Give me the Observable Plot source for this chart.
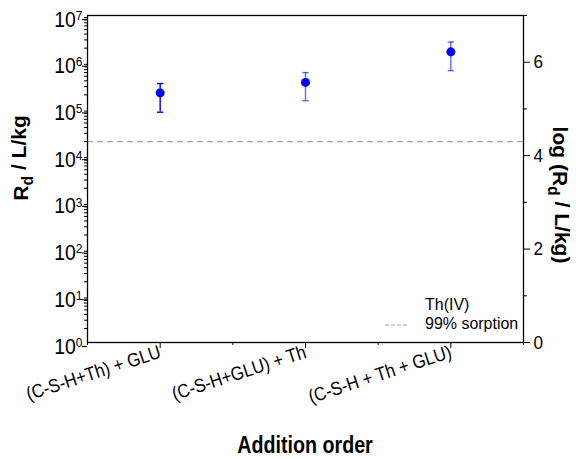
<!DOCTYPE html>
<html><head><meta charset="utf-8">
<script src="https://cdn.jsdelivr.net/npm/d3@7"></script>
<script src="https://cdn.jsdelivr.net/npm/@observablehq/plot@0.6"></script>
<style>body{margin:0;background:#fff;font-family:"Liberation Sans",Arial,sans-serif}</style>
</head><body><div id="chart"></div>
<script>
const categories = ["(C-S-H+Th) + GLU", "(C-S-H+GLU) + Th", "(C-S-H + Th + GLU)"];
const rdValues = [2.2e5, 3.7e5, 1.67e6];
const rdLower = [8.5e4, 1.5e5, 6.6e5];
const rdUpper = [3.5e5, 6.0e5, 2.7e6];
const sorption99 = 2.0e4;
const leftExponents = [0, 1, 2, 3, 4, 5, 6, 7];
const rightTicks = [0, 2, 4, 6];
const rightMinor = [1, 3, 5, 7];
const legendTitle = "Th(IV)";
const legendLabel = "99% sorption";
const xTitle = "Addition order";

const data = categories.map((c, i) => ({x: i + 0.5, cat: c, y: rdValues[i], lo: rdLower[i], hi: rdUpper[i], i}));
const minorLog = [];
for (let k = 0; k < 7; k++) for (let m = 2; m <= 9; m++) minorLog.push(m * 10 ** k);

const W = 576, H = 459, ML = 87, MR = 53, MT = 15, MB = 117;
const blank = () => "";
const barOpacity = d => d.i === 0 ? 1 : 0.6;
const chart = Plot.plot({
  width: W, height: H,
  marginLeft: ML, marginRight: MR, marginTop: MT, marginBottom: MB,
  style: {fontFamily: "'Liberation Sans', Arial, sans-serif", fontSize: "16px", color: "black", background: "white"},
  x: {type: "linear", domain: [0, 3]},
  y: {type: "log", domain: [1, 1e7]},
  marks: [
    Plot.ruleY([sorption99], {stroke: "#a8a8a8", strokeWidth: 1.3, strokeDasharray: "6,4"}),
    Plot.ruleX(data, {x: "x", y1: "lo", y2: "hi", stroke: "#0000ff", strokeWidth: 1.4, strokeOpacity: barOpacity}),
    Plot.link(data, {x1: d => d.x - 0.022, x2: d => d.x + 0.022, y1: "hi", y2: "hi", stroke: "#0000ff", strokeWidth: 1.4, strokeOpacity: barOpacity}),
    Plot.link(data, {x1: d => d.x - 0.022, x2: d => d.x + 0.022, y1: "lo", y2: "lo", stroke: "#0000ff", strokeWidth: 1.4, strokeOpacity: barOpacity}),
    Plot.dot(data, {x: "x", y: "y", r: 4.5, fill: "#0000ff", stroke: null}),
    Plot.frame({stroke: "black", strokeWidth: 1.3}),
    Plot.axisY(minorLog, {tickSize: 3, label: null, tickFormat: blank}),
    Plot.axisY(leftExponents.map(e => 10 ** e), {tickSize: 5, label: null, fontSize: 22, tickPadding: 0, dy: 4,
      tickFormat: d => "10^" + Math.round(Math.log10(d))}),
    Plot.axisY(rightTicks.map(v => 10 ** v), {anchor: "right", tickSize: 6, label: null, fontSize: 19, tickPadding: 4,
      tickFormat: d => String(Math.round(Math.log10(d)))}),
    Plot.axisY(rightMinor.map(v => 10 ** v), {anchor: "right", tickSize: 3, label: null, tickFormat: blank}),
    Plot.axisX(data.map(d => d.x), {tickSize: 6, label: null, fontSize: 19, tickRotate: -18, tickPadding: 3,
      tickFormat: d => categories[Math.floor(d)]}),
    Plot.axisX([0, 1, 2, 3], {tickSize: 3, label: null, tickFormat: blank})
  ]
});
document.getElementById("chart").append(chart);

const svg = d3.select(chart);
function squeeze(el, s) {
  const t = d3.select(el);
  const x = +t.attr("x") || 0, y = +t.attr("y") || 0;
  const tr = t.attr("transform") || "";
  t.attr("transform", `${tr} translate(${x},${y}) scale(${s},1) translate(${-x},${-y})`);
}
// superscript exponents on left axis, and slight horizontal squeeze of axis texts
svg.selectAll("text").each(function () {
  const t = d3.select(this);
  const s = t.text();
  if (s.startsWith("10^")) {
    const e = s.slice(3);
    t.text("10");
    t.append("tspan").attr("dy", "-0.5em").attr("font-size", "0.62em").text(e);
    squeeze(this, 0.88);
  } else if (categories.includes(s)) {
    squeeze(this, 0.88);
  } else if (/^\d$/.test(s)) {
    squeeze(this, 0.9);
  }
});

const fx = ML, fr = W - MR, ft = MT, fb = H - MB;
// left title
const lt = svg.append("text").attr("transform", `translate(28,158) rotate(-90)`)
  .attr("text-anchor", "middle").attr("font-weight", "bold").attr("font-size", 21).attr("fill", "black");
lt.append("tspan").text("R");
lt.append("tspan").attr("dy", "0.3em").attr("font-size", "0.75em").text("d");
lt.append("tspan").attr("dy", "-0.3em").text(" / L/kg");
// right title
const rt = svg.append("text").attr("transform", `translate(553,195) rotate(90)`)
  .attr("text-anchor", "middle").attr("font-weight", "bold").attr("font-size", 21).attr("fill", "black");
rt.append("tspan").text("log (R");
rt.append("tspan").attr("dy", "0.3em").attr("font-size", "0.75em").text("d");
rt.append("tspan").attr("dy", "-0.3em").text(" / L/kg)");
// x title
svg.append("text").attr("transform", `translate(${(fx + fr) / 2},453) scale(0.82,1)`).attr("text-anchor", "middle")
  .attr("font-weight", "bold").attr("font-size", 24).attr("fill", "black").text(xTitle);
// legend
svg.append("text").attr("transform", "translate(425,310) scale(0.94,1)").attr("text-anchor", "start")
  .attr("font-size", 17).attr("fill", "black").text(legendTitle);
svg.append("text").attr("transform", "translate(425,329) scale(0.94,1)").attr("text-anchor", "start")
  .attr("font-size", 17).attr("fill", "black").text(legendLabel);
svg.append("line").attr("x1", 385).attr("x2", 407).attr("y1", 325).attr("y2", 325)
  .attr("stroke", "#a8a8a8").attr("stroke-width", 1.2).attr("stroke-dasharray", "4,2");
</script></body></html>
